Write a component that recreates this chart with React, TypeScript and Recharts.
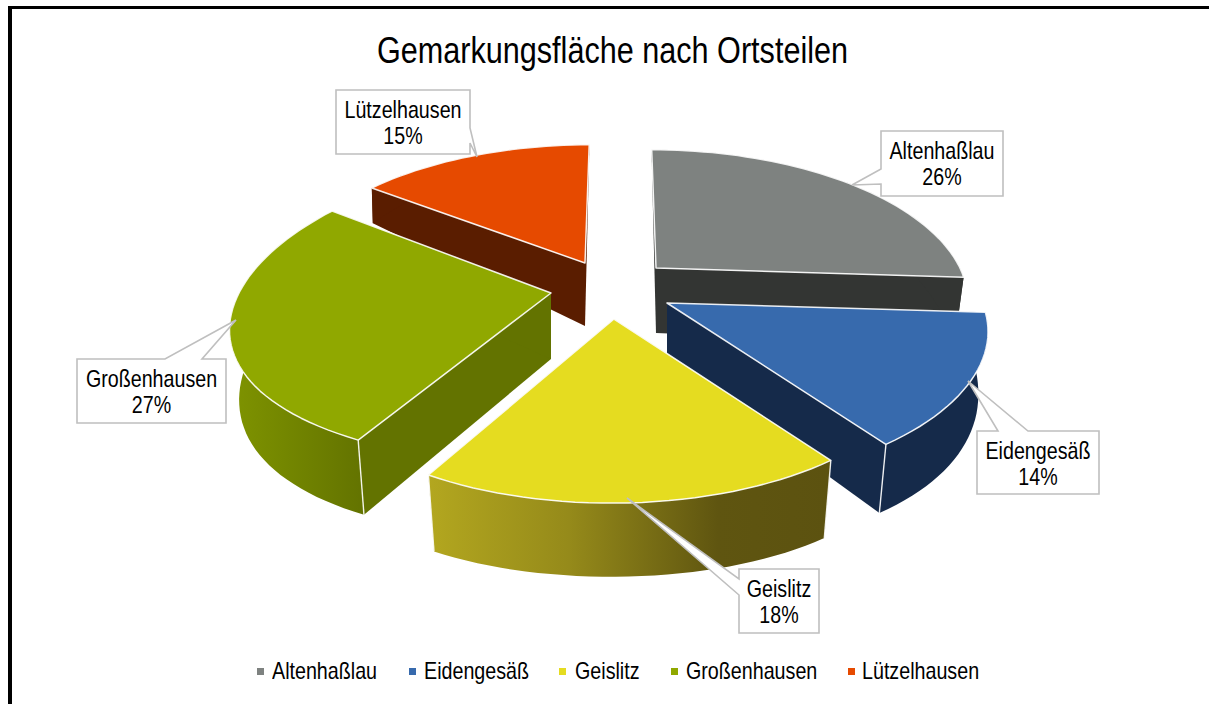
import React from "react";
import { PieChart, Pie, Legend } from "recharts";

const NAMES = ["Altenhaßlau", "Eidengesäß", "Geislitz", "Großenhausen", "Lützelhausen"];
const VALUES = [26, 14, 18, 27, 15];
const COLORS = ["#7E8280", "#376AAD", "#E5DC20", "#90A800", "#E64A00"];
const TITLE = "Gemarkungsfläche nach Ortsteilen";

const tableData = NAMES.map((name, i) => ({ name, value: VALUES[i], fill: COLORS[i] }));

const FONT = "'Liberation Sans', Arial, sans-serif";
const NARROW = 0.82;
const CX = 620;
const CY = 290;
const R = 320;
const K_TOP = 0.218;
const K_BOTTOM = 0.061;

// Per-slice drawing style: explode offset, perspective scale, thickness, walls and z-layer.
const STYLE: Record<string, any> = {
  "Altenhaßlau": { dx: 36, dy: -22, s: 0.95, d: 65, wall: "#333533", radial: "#333533", layer: 0 },
  "Eidengesäß": { dx: 47, dy: 13, s: 0.985, kx: 0.19, d: 56, wall: "#152A4A", radial: "#152A4A", layer: 1 },
  "Geislitz": { dx: -6, dy: 29, s: 0.96, fs: -3, d: 65, wall: "url(#wallGeislitz)", radial: "#5C5210", layer: 1 },
  "Großenhausen": { dx: -69, dy: 3, s: 0.975, fs: -8, ky: 0.124, by: 149.6, bs: 0.93, d: 66, wall: "url(#wallGross)", radial: "#637300", layer: 1 },
  "Lützelhausen": { dx: -35, dy: -27, s: 0.94, bx: 0.995, d: 63, wall: "#5A1D00", radial: "#5A1D00", layer: 0 },
};

// Label boxes with their callout pointers, in page pixels.
const CALLOUTS: Record<string, { box: number[]; outline: number[][] }> = {
  "Altenhaßlau": { box: [881, 131, 122, 65], outline: [[881, 131], [1003, 131], [1003, 196], [881, 196], [881, 184], [852, 185], [881, 169]] },
  "Eidengesäß": { box: [977, 431, 122, 63], outline: [[977, 431], [998, 431], [968, 381], [1028, 431], [1099, 431], [1099, 494], [977, 494]] },
  "Geislitz": { box: [739, 569, 80, 64], outline: [[739, 569], [819, 569], [819, 633], [739, 633], [739, 595], [627, 498], [739, 579]] },
  "Großenhausen": { box: [77, 359, 149, 64], outline: [[77, 359], [165, 359], [236, 320], [202, 359], [226, 359], [226, 423], [77, 423]] },
  "Lützelhausen": { box: [336, 90, 134, 64], outline: [[336, 90], [470, 90], [470, 128], [477, 157], [470, 143], [470, 154], [336, 154]] },
};

const LEGEND_SQUARE_X = [257, 409, 559, 671, 848];
const LEGEND_TEXT_X = [272, 424, 575, 686, 862];

const project = (deg: number, st: any, cx: number, cy: number, r: number, bottom: boolean) => {
  const rad = (deg * Math.PI) / 180;
  const u = Math.sin(rad);
  const v = -Math.cos(rad);
  const ax = cx + st.dx;
  const ay = cy + st.dy;
  const skew = v < 0 ? -st.dx * -v * 0.12 : (st.fs ?? 0) * v;
  const xTop = (r * st.s * u) / (1 - (st.kx ?? K_TOP) * v) + skew;
  if (!bottom) {
    const ky = st.ky ?? K_TOP;
    const b = st.by ?? r * 0.45;
    return [ax + xTop, ay + (b * v) / (1 - ky * v)];
  }
  return [ax + xTop * (st.bx ?? 0.97), ay + st.d + (r * 0.5656 * (st.bs ?? 1) * v) / (1 - K_BOTTOM * v)];
};

const arc = (a: number, b: number, st: any, cx: number, cy: number, r: number, bottom: boolean) => {
  const n = Math.max(2, Math.ceil(Math.abs(b - a) / 2));
  const pts: number[][] = [];
  for (let i = 0; i <= n; i++) pts.push(project(a + ((b - a) * i) / n, st, cx, cy, r, bottom));
  return pts;
};

const toPath = (pts: number[][]) =>
  "M" + pts.map((p) => p[0].toFixed(1) + " " + p[1].toFixed(1)).join("L") + "Z";

const makeSlice = (layer: number) => (props: any) => {
  const { cx, cy, outerRadius, startAngle, endAngle, name, payload } = props;
  const key = name ?? payload?.name;
  const st = STYLE[key];
  if (!st || st.layer !== layer) return <g />;
  const a = 90 - startAngle;
  const b = 90 - endAngle;
  const apexT = [cx + st.dx, cy + st.dy];
  const apexB = [cx + st.dx, cy + st.dy + st.d];
  const topArc = arc(a, b, st, cx, cy, outerRadius, false);
  const botArc = arc(a, b, st, cx, cy, outerRadius, true);
  const corners = [
    [topArc[0], botArc[0], a],
    [topArc[topArc.length - 1], botArc[botArc.length - 1], b],
  ] as any[];
  return (
    <g>
      <path d={toPath([apexT, topArc[0], botArc[0], apexB])} fill={st.radial} />
      <path d={toPath([apexT, topArc[topArc.length - 1], botArc[botArc.length - 1], apexB])} fill={st.radial} />
      <path d={toPath([...topArc, ...botArc.slice().reverse()])} fill={st.wall} />
      {corners
        .filter((c) => -Math.cos((c[2] * Math.PI) / 180) > 0.5)
        .map((c, i) => (
          <line key={i} x1={c[0][0]} y1={c[0][1]} x2={c[1][0]} y2={c[1][1]} stroke="#fff" strokeWidth={1.4} strokeOpacity={0.9} />
        ))}
      <path d={toPath([apexT, ...topArc])} fill={payload?.fill ?? props.fill} stroke="#fff" strokeOpacity={0.9} strokeWidth={1.5} strokeLinejoin="round" />
    </g>
  );
};

const renderLabel = (props: any) => {
  const name = props.name ?? props.payload?.name;
  const c = CALLOUTS[name];
  if (!c) return null;
  const [x, y, w] = c.box;
  const mid = x + w / 2;
  return (
    <g>
      <path d={toPath(c.outline)} fill="#fff" stroke="#BFBFBF" strokeWidth={1.6} />
      <text transform={`translate(${mid} ${y + 27.5}) scale(${NARROW} 1)`} textAnchor="middle" fontFamily={FONT} fontSize={24} fill="#000">{name}</text>
      <text transform={`translate(${mid} ${y + 54}) scale(${NARROW} 1)`} textAnchor="middle" fontFamily={FONT} fontSize={24} fill="#000">{Math.round(props.percent * 100)}%</text>
    </g>
  );
};

const LegendContent = (props: any) => {
  const seen = new Set<string>();
  const items = (props.payload || []).filter((e: any) => {
    if (seen.has(e.value)) return false;
    seen.add(e.value);
    return true;
  });
  return (
    <div style={{ position: "relative", height: 28, width: 1209 }}>
      {items.map((e: any, i: number) => (
        <React.Fragment key={e.value}>
          <span style={{ position: "absolute", left: LEGEND_SQUARE_X[i], top: 11, width: 7, height: 7, background: e.payload?.fill ?? e.color }} />
          <span style={{ position: "absolute", left: LEGEND_TEXT_X[i], top: 0, fontFamily: FONT, fontSize: 24, lineHeight: "28px", color: "#000", whiteSpace: "nowrap", transform: `scaleX(${NARROW})`, transformOrigin: "left center" }}>{e.value}</span>
        </React.Fragment>
      ))}
    </div>
  );
};

export default function App() {
  return (
    <div style={{ position: "absolute", left: 0, top: 0, width: 1209, height: 704, overflow: "hidden", background: "#fff" }}>
      <div style={{ position: "absolute", left: 8, top: 6, width: 1201, height: 698, boxSizing: "border-box", borderLeft: "4px solid #000", borderTop: "3px solid #000" }} />
      <div style={{ position: "absolute", left: 0, top: 30, width: 1225, textAlign: "center", fontFamily: FONT, fontSize: 36, lineHeight: "42px", color: "#000", transform: "scaleX(0.85)", transformOrigin: "612.5px 50%" }}>{TITLE}</div>
      <div style={{ position: "absolute", left: 0, top: 0 }}>
        <PieChart width={1209} height={704} margin={{ top: 0, right: 0, bottom: 0, left: 0 }}>
          <defs>
            <linearGradient id="wallGeislitz" x1="0" y1="0" x2="1" y2="0">
              <stop offset="0" stopColor="#B3A71F" />
              <stop offset="0.35" stopColor="#958A1A" />
              <stop offset="0.72" stopColor="#5F5510" />
              <stop offset="1" stopColor="#5C5210" />
            </linearGradient>
            <linearGradient id="wallGross" x1="0" y1="0" x2="1" y2="0">
              <stop offset="0" stopColor="#7F9400" />
              <stop offset="1" stopColor="#637300" />
            </linearGradient>
          </defs>
          <Pie data={tableData} dataKey="value" nameKey="name" cx={CX} cy={CY} outerRadius={R} startAngle={90} endAngle={-270}
            isAnimationActive={false} legendType="none" label={false} labelLine={false} stroke="none" shape={makeSlice(0)} />
          <Pie data={tableData} dataKey="value" nameKey="name" cx={CX} cy={CY} outerRadius={R} startAngle={90} endAngle={-270}
            isAnimationActive={false} label={renderLabel} labelLine={false} stroke="none" shape={makeSlice(1)} />
          <Legend content={<LegendContent />} wrapperStyle={{ position: "absolute", left: 0, top: 657, width: 1209 }} />
        </PieChart>
      </div>
    </div>
  );
}
